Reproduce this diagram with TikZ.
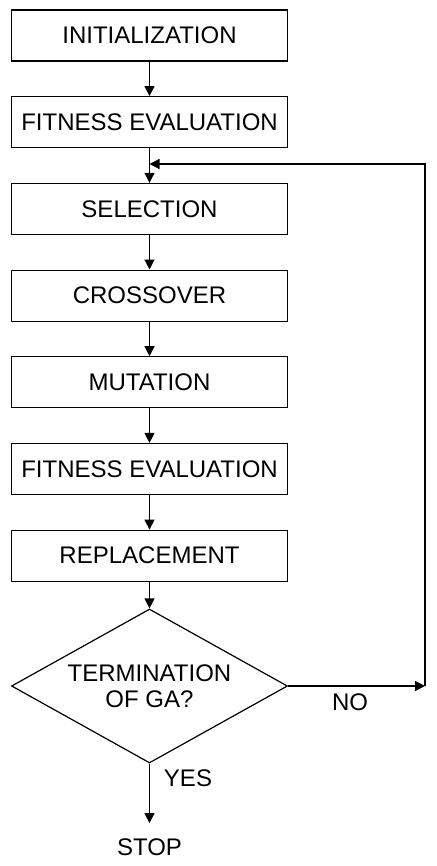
\documentclass[tikz,border=0pt]{standalone}
\usepackage{fontspec}
\setmainfont{Liberation Sans}
\usetikzlibrary{arrows.meta,positioning,shapes.geometric}

\begin{document}
\begin{tikzpicture}[
    x=0.5pt, y=-0.5pt,
    every node/.style={font=\fontsize{12}{13}\selectfont},
    stepbox/.style={draw, line width=0.6pt, minimum width=138pt, minimum height=25.5pt, inner sep=0pt},
    decision/.style={draw, diamond, shape aspect=1.79, line width=0.6pt, minimum width=138pt, minimum height=77pt, inner sep=0pt, align=center},
    lbl/.style={inner sep=0pt},
    flow/.style={line width=0.6pt, -{Triangle[length=5pt, width=5pt]}},
  ]
    \useasboundingbox (0,0) rectangle (437,866);

    % ============ main column ============
    \node[stepbox] (init) at (149.5,35.5) {INITIALIZATION};
    \node[stepbox, below=17.25pt of init] (fit1) {FITNESS EVALUATION};
    \node[stepbox, below=17.25pt of fit1] (sel) {SELECTION};
    \node[stepbox, below=17.25pt of sel] (cross) {CROSSOVER};
    \node[stepbox, below=17.25pt of cross] (mut) {MUTATION};
    \node[stepbox, below=17.25pt of mut] (fit2) {FITNESS EVALUATION};
    \node[stepbox, below=17.25pt of fit2] (repl) {REPLACEMENT};
    \node[decision] (term) at (149.5,686) {TERMINATION\\OF GA?};
    \node[lbl] (stop) at (149.5,847) {STOP};

    \draw[flow] (init) -- (fit1);
    \draw[flow] (fit1) -- (sel);
    \draw[flow] (sel) -- (cross);
    \draw[flow] (cross) -- (mut);
    \draw[flow] (mut) -- (fit2);
    \draw[flow] (fit2) -- (repl);
    \draw[flow] (repl) -- (term);
    \draw[flow, shorten >=7.5pt] (term) -- (stop);

    % ============ loop back ============
    \coordinate (noend) at (425,686);
    \coordinate (looptop) at (425,164);
    \coordinate (merge) at (149.5,164);
    \draw[flow] (term.east) -- (noend);
    \draw[flow] (noend) -- (looptop) -- (merge);

    \node[lbl] (no) at (350,702) {NO};
    \node[lbl] (yes) at (188,778) {YES};
  \end{tikzpicture}
\end{document}
